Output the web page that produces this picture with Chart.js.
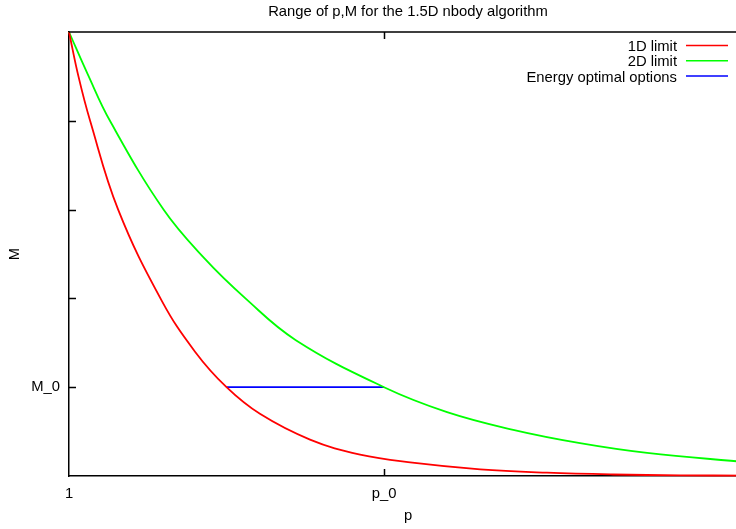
<!DOCTYPE html>
<html>
<head>
<meta charset="utf-8">
<title>Range of p,M for the 1.5D nbody algorithm</title>
<script src="https://cdn.jsdelivr.net/npm/chart.js@4.4.1/dist/chart.umd.min.js"></script>
<style>
  html, body { margin: 0; padding: 0; background: #fff; overflow: hidden; }
  /* the plot runs a little past the window on the right, like the cropped original */
  #wrap { width: 747px; height: 529px; position: relative; }
</style>
</head>
<body>
<div id="wrap"><canvas id="chart"></canvas></div>
<script>
// -----------------------------------------------------------------------------
// Data (x: 0 = "1", 10 = "p_0"; y: 1 = "M_0")
// -----------------------------------------------------------------------------
const xTicks      = [0, 10];
const xTickLabels = ['1', 'p_0'];
const yTicks      = [1, 2, 3, 4];
const yTickLabels = ['M_0', '', '', ''];

const limit1dX = [0, 0.3, 0.67, 1.56, 2.95, 4.0, 5.0, 6.06, 7.65, 9.24, 10.9, 13.05, 15.17, 17.27, 19.4, 21.5];
const limit1dY = [5.0, 4.5, 4.0, 3.0, 1.97, 1.40, 1.0, 0.70, 0.41, 0.24, 0.15, 0.075, 0.037, 0.017, 0.008, 0.004];

const limit2dX = [0, 0.6, 1.3, 3.0, 4.3, 5.6, 7.2, 10.0, 12.0, 14.1, 16.22, 18.35, 21.52];
const limit2dY = [5.0, 4.52, 4.0, 3.0, 2.45, 2.0, 1.53, 1.0, 0.72, 0.52, 0.37, 0.26, 0.155];

const optimalX = [5.0, 10.0];
const optimalY = [1.0, 1.0];

// -----------------------------------------------------------------------------
const FONT = '"Liberation Sans", Arial, Helvetica, sans-serif';
const FS   = 14.8;
const INK  = '#000';

function pts(xs, ys){ return xs.map((x, i) => ({ x, y: ys[i] })); }

function series(label, xs, ys, color){
  return {
    label,
    data: pts(xs, ys),
    borderColor: color,
    backgroundColor: color,
    borderWidth: 1.8,
    pointRadius: 0,
    tension: 0.4,
    fill: false,
    clip: 4,
  };
}

// gnuplot style frame: inward ticks + top border
const frame = {
  id: 'frame',
  afterDatasetsDraw(chart){
    const { ctx, chartArea: a, scales: { x, y } } = chart;
    ctx.save();
    ctx.strokeStyle = INK;
    ctx.lineWidth = 1.5;
    ctx.beginPath();
    ctx.moveTo(a.left, a.top); ctx.lineTo(a.right, a.top);
    yTicks.forEach(v => {
      const py = Math.round(y.getPixelForValue(v)) + 0.5;
      ctx.moveTo(a.left, py); ctx.lineTo(a.left + 7, py);
    });
    xTicks.filter(v => v > x.min).forEach(v => {
      const px = Math.round(x.getPixelForValue(v)) + 0.5;
      ctx.moveTo(px, a.bottom); ctx.lineTo(px, a.bottom - 7);
      ctx.moveTo(px, a.top);    ctx.lineTo(px, a.top + 7);
    });
    ctx.stroke();
    ctx.restore();
  }
};

// key in the top right, text to the left of the sample line
const key = {
  id: 'key',
  afterDraw(chart){
    const { ctx } = chart;
    ctx.save();
    ctx.font = FS + 'px ' + FONT;
    ctx.textAlign = 'right';
    ctx.textBaseline = 'middle';
    chart.data.datasets.forEach((ds, i) => {
      const yy = 46 + i * 15.3;
      ctx.fillStyle = INK;
      ctx.fillText(ds.label, 677, yy + 1);
      ctx.strokeStyle = ds.borderColor;
      ctx.lineWidth = 1.5;
      ctx.beginPath();
      ctx.moveTo(686, yy - 0.5); ctx.lineTo(728, yy - 0.5);
      ctx.stroke();
    });
    ctx.restore();
  }
};

new Chart(document.getElementById('chart'), {
  type: 'line',
  data: {
    datasets: [
      series('1D limit', limit1dX, limit1dY, '#ff0000'),
      series('2D limit', limit2dX, limit2dY, '#00ff00'),
      series('Energy optimal options', optimalX, optimalY, '#0000ff'),
    ]
  },
  plugins: [frame, key],
  options: {
    responsive: true,
    maintainAspectRatio: false,
    animation: false,
    layout: { padding: 0 },
    plugins: {
      legend: { display: false },
      tooltip: { enabled: false },
      title: {
        display: true,
        text: 'Range of p,M for the 1.5D nbody algorithm',
        color: INK,
        fullSize: false,
        font: { family: FONT, size: FS, weight: 'normal' },
        padding: { top: 3, bottom: 11.24 },
      },
    },
    scales: {
      x: {
        type: 'linear',
        min: 0, max: 21.52,
        afterBuildTicks: s => { s.ticks = xTicks.map(v => ({ value: v })); },
        afterFit: s => { s.height = 53; },
        ticks: {
          autoSkip: false, maxRotation: 0, padding: 9,
          color: INK, font: { family: FONT, size: FS },
          callback: v => xTickLabels[xTicks.indexOf(v)],
        },
        grid: { display: false, drawTicks: false },
        border: { display: true, color: INK, width: 1.5 },
        title: { display: true, text: 'p', color: INK, font: { family: FONT, size: FS }, padding: { top: 0, bottom: 4 } },
      },
      y: {
        type: 'linear',
        min: 0, max: 5,
        afterBuildTicks: s => { s.ticks = yTicks.map(v => ({ value: v })); },
        afterFit: s => { s.width = 69; },
        ticks: {
          autoSkip: false, padding: 9,
          color: INK, font: { family: FONT, size: FS },
          callback: v => yTickLabels[yTicks.indexOf(v)],
        },
        grid: { display: false, drawTicks: false },
        border: { display: true, color: INK, width: 1.5 },
        title: { display: true, text: 'M', color: INK, font: { family: FONT, size: FS }, padding: { top: 6, bottom: 0 } },
      },
    },
  },
});
</script>
</body>
</html>
